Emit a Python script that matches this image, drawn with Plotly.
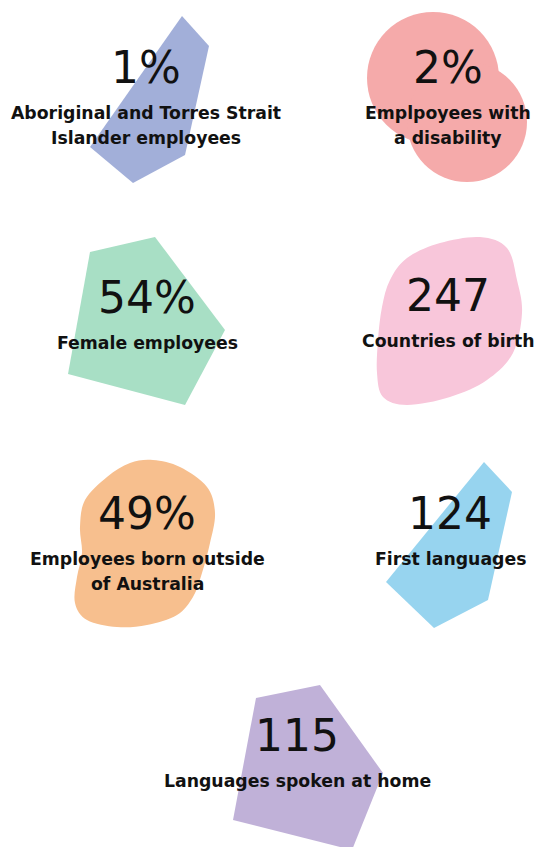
import plotly.graph_objects as go

# ---- data ----
values = ["1%", "2%", "54%", "247", "49%", "124", "115"]
labels = [
    ["Aboriginal and Torres Strait", "Islander employees"],
    ["Emplpoyees with", "a disability"],
    ["Female employees"],
    ["Countries of birth"],
    ["Employees born outside", "of Australia"],
    ["First languages"],
    ["Languages spoken at home"],
]
colors = ["#A2AFD9", "#F5AAAA", "#A8DFC5", "#F8C6DA", "#F7BF8E", "#97D4EF", "#C0B1D8"]

# ---- layout (pixel coordinates of tile centres) ----
W, H = 538, 847
num_pos = [(146, 67), (448, 67), (147, 297), (448, 295), (147, 513), (450, 513), (297, 735)]
label_dy = 46
line_gap = 25

# decorative shapes
poly_shapes = {
    0: [(182, 16), (209, 46), (185, 155), (133, 183), (90, 147)],
    2: [(90, 252), (155, 237), (225, 330), (185, 405), (68, 374)],
    5: [(484, 462), (512, 492), (488, 600), (434, 628), (386, 582)],
    6: [(256, 698), (320, 685), (383, 773), (352, 850), (233, 820)],
}
blob_shapes = {
    3: [(480, 237), (507, 248), (517, 280), (522, 313), (513, 353), (487, 380), (450, 397),
        (407, 405), (383, 397), (377, 373), (378, 340), (382, 307), (390, 280), (407, 258), (440, 243)],
    4: [(153, 460), (180, 467), (207, 487), (215, 513), (210, 543), (202, 573), (193, 597),
        (177, 615), (147, 625), (117, 627), (87, 620), (75, 603), (77, 577), (82, 553),
        (80, 527), (85, 500), (107, 477), (130, 463)],
}
circles = {1: [(433, 78, 66), (467, 122, 60)]}


def poly_path(pts):
    return "M " + " L ".join(f"{x},{y}" for x, y in pts) + " Z"


def smooth_path(pts):
    n = len(pts)
    d = f"M {pts[0][0]},{pts[0][1]}"
    for i in range(n):
        p0 = pts[(i - 1) % n]
        p1 = pts[i]
        p2 = pts[(i + 1) % n]
        p3 = pts[(i + 2) % n]
        c1 = (p1[0] + (p2[0] - p0[0]) / 6, p1[1] + (p2[1] - p0[1]) / 6)
        c2 = (p2[0] - (p3[0] - p1[0]) / 6, p2[1] - (p3[1] - p1[1]) / 6)
        d += f" C {c1[0]:.1f},{c1[1]:.1f} {c2[0]:.1f},{c2[1]:.1f} {p2[0]},{p2[1]}"
    return d + " Z"


shapes = []
for i, col in enumerate(colors):
    if i in poly_shapes:
        shapes.append(dict(type="path", path=poly_path(poly_shapes[i]), fillcolor=col,
                           line=dict(width=0), xref="x", yref="y", layer="below"))
    elif i in blob_shapes:
        shapes.append(dict(type="path", path=smooth_path(blob_shapes[i]), fillcolor=col,
                           line=dict(width=0), xref="x", yref="y", layer="below"))
    elif i in circles:
        for cx, cy, r in circles[i]:
            shapes.append(dict(type="circle", x0=cx - r, x1=cx + r, y0=cy - r, y1=cy + r,
                               fillcolor=col, line=dict(width=0), xref="x", yref="y",
                               layer="below"))

annotations = []
for i, v in enumerate(values):
    x, y = num_pos[i]
    annotations.append(dict(x=x, y=y, text=v, showarrow=False, xref="x", yref="y",
                            xanchor="center", yanchor="middle",
                            font=dict(family="DejaVu Sans", size=44, color="#111111")))
    for j, line in enumerate(labels[i]):
        annotations.append(dict(x=x, y=y + label_dy + j * line_gap, text=line,
                                showarrow=False, xref="x", yref="y",
                                xanchor="center", yanchor="middle",
                                font=dict(family="DejaVu Sans", size=17.3, color="#111111",
                                          weight="bold")))

fig = go.Figure()
fig.update_layout(
    width=W, height=H,
    margin=dict(l=0, r=0, t=0, b=0),
    paper_bgcolor="white", plot_bgcolor="white",
    xaxis=dict(range=[0, W], visible=False, fixedrange=True),
    yaxis=dict(range=[H, 0], visible=False, fixedrange=True),
    shapes=shapes, annotations=annotations, showlegend=False,
)
fig.write_html("out.html", config=dict(displayModeBar=False),
               post_script="document.body.style.margin='0';document.body.style.overflow='hidden';")
